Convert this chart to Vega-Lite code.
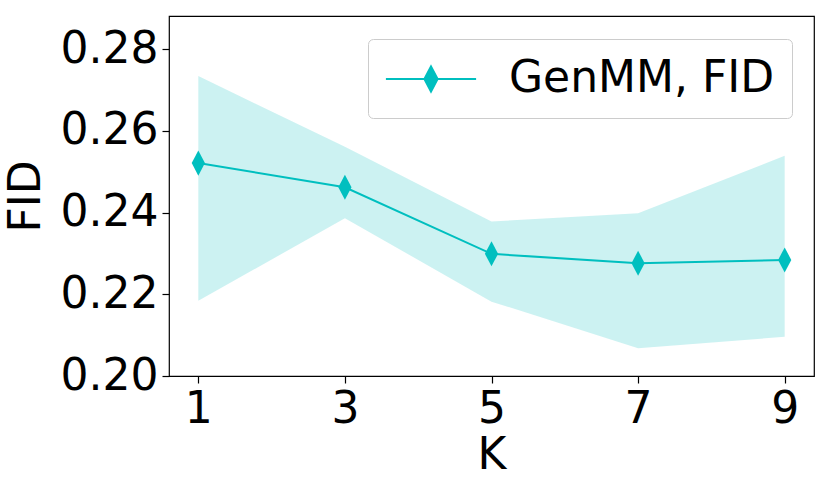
{
  "$schema": "https://vega.github.io/schema/vega-lite/v6.json",
  "width": 645,
  "height": 360,
  "autosize": {"type": "none"},
  "padding": {"left": 169, "top": 16, "right": 16, "bottom": 114},
  "background": "white",
  "config": {
    "font": "DejaVu Sans",
    "view": {"stroke": "#000000", "strokeWidth": 1.2},
    "axis": {
      "labelFont": "DejaVu Sans",
      "titleFont": "DejaVu Sans",
      "labelFontSize": 44,
      "titleFontSize": 44,
      "titleFontWeight": "normal",
      "labelColor": "#000000",
      "titleColor": "#000000",
      "tickColor": "#000000",
      "domain": false,
      "grid": false,
      "tickSize": 7,
      "tickWidth": 1.2,
      "labelPadding": 4
    }
  },
  "data": {
    "values": [
      {"K": 1, "FID": 0.2521, "lo": 0.2184, "hi": 0.2734, "series": "GenMM, FID"},
      {"K": 3, "FID": 0.2462, "lo": 0.2386, "hi": 0.2561, "series": "GenMM, FID"},
      {"K": 5, "FID": 0.2299, "lo": 0.2182, "hi": 0.2378, "series": "GenMM, FID"},
      {"K": 7, "FID": 0.2276, "lo": 0.2068, "hi": 0.2398, "series": "GenMM, FID"},
      {"K": 9, "FID": 0.2284, "lo": 0.2096, "hi": 0.2539, "series": "GenMM, FID"}
    ]
  },
  "encoding": {
    "x": {
      "field": "K",
      "type": "quantitative",
      "scale": {"domain": [0.6, 9.4], "nice": false, "zero": false},
      "axis": {"values": [1, 3, 5, 7, 9], "title": "K", "titlePadding": 2}
    }
  },
  "layer": [
    {
      "mark": {"type": "area", "color": "#00bfbf", "opacity": 0.2},
      "encoding": {
        "y": {
          "field": "hi",
          "type": "quantitative",
          "scale": {"domain": [0.2, 0.2881], "nice": false, "zero": false},
          "axis": {"values": [0.2, 0.22, 0.24, 0.26, 0.28], "format": ".2f", "title": "FID", "titlePadding": 12}
        },
        "y2": {"field": "lo"}
      }
    },
    {
      "mark": {"type": "line", "strokeWidth": 2},
      "encoding": {
        "y": {"field": "FID", "type": "quantitative"},
        "color": {
          "field": "series",
          "type": "nominal",
          "scale": {"range": ["#00bfbf"]},
          "legend": {
            "title": null,
            "orient": "none",
            "legendX": 199,
            "legendY": 23,
            "padding": 17,
            "strokeColor": "#cccccc",
            "cornerRadius": 5,
            "fillColor": "white",
            "labelFont": "DejaVu Sans",
            "labelFontSize": 44,
            "labelColor": "#000000",
            "labelLimit": 600,
            "symbolType": "M-2.05,0L2.05,0M0,-0.57L0.3,0L0,0.57L-0.3,0Z",
            "symbolSize": 1936,
            "symbolFillColor": "#00bfbf",
            "symbolStrokeColor": "#00bfbf",
            "symbolStrokeWidth": 2,
            "symbolOffset": 23,
            "labelOffset": 55
          }
        }
      }
    },
    {
      "mark": {"type": "point", "filled": true, "color": "#00bfbf", "opacity": 1, "size": 1936, "shape": "M0,-0.57L0.3,0L0,0.57L-0.3,0Z"},
      "encoding": {
        "y": {"field": "FID", "type": "quantitative"}
      }
    }
  ]
}
